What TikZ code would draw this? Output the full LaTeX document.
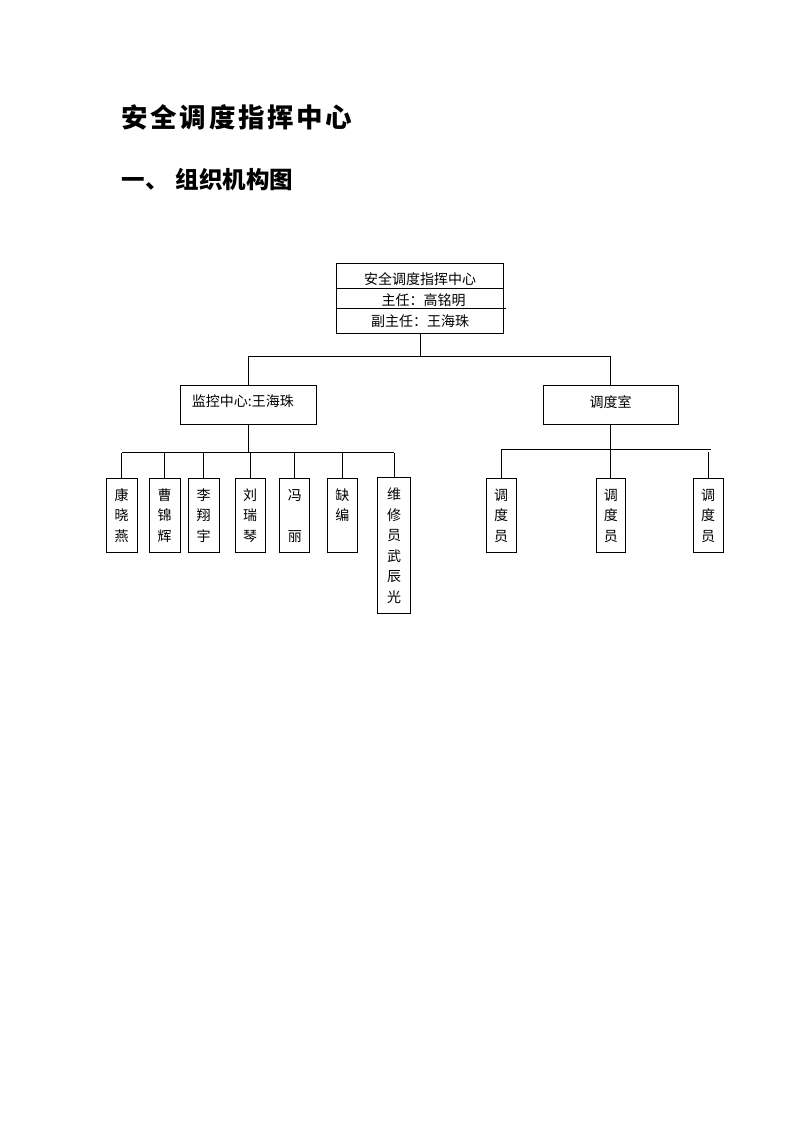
\documentclass[tikz,border=0pt]{standalone}
\usepackage{fontspec}
\newfontfamily\cjk{Noto Sans CJK SC}
\usetikzlibrary{calc}
\begin{document}
\begin{tikzpicture}[x=1pt,y=-1pt,line width=0.9pt,
  every node/.style={font=\cjk},
  txt/.style={font=\cjk\fontsize{14}{21.3}\selectfont},
  vbox/.style={draw, inner sep=0pt, anchor=north, align=center, minimum width=31pt,
    text height=63pt, text depth=10.5pt, font=\cjk\fontsize{14}{20.5}\selectfont},
  hbox/.style={draw, anchor=north west, font=\cjk\fontsize{14}{17}\selectfont},
  titlestyle/.style={anchor=base west, inner sep=0pt}
]
\useasboundingbox (0,0) rectangle (793,1122);
\def\ts{\kern2.7pt}
% titles
\node[titlestyle, font=\cjk\bfseries\fontsize{26.5}{30}\selectfont] (title) at (121,127.5)
  {安\ts 全\ts 调\ts 度\ts 指\ts 挥\ts 中\ts 心};
\node[titlestyle, font=\cjk\bfseries\fontsize{23.5}{28}\selectfont] (sub) at (121.5,188)
  {一、\hspace{7pt}组织机构图};
% top box
\node[draw, txt, anchor=north, inner sep=0pt, minimum width=166.5pt, text height=63.7pt,
  text depth=7.1pt, align=center] (top) at (420.1,262.5)
  {安全调度指挥中心\\\hspace{7pt}主任：高铭明\\副主任：王海珠};
\draw ($(top.north west)+(0,25.8)$) -- ($(top.north east)+(0,25.8)$);
\draw ($(top.north west)+(0,45.8)$) -- ($(top.north east)+(1.7,45.8)$);
% second level
\node[hbox, inner xsep=12pt, inner ysep=0pt, text width=112.5pt, align=left,
  text height=21.5pt, text depth=18pt] (mon) at (179.5,384.5) {监控中心:王海珠};
\node[hbox, inner sep=0pt, minimum width=135.5pt, text height=22pt, text depth=17pt]
  (disp) at (542.5,385) {调度室};
\coordinate (b1) at (421,356);
\draw (top.south) -- (top.south |- b1);
\draw (mon.north) -- (mon.north |- b1) -- (disp.north |- b1) -- (disp.north);
% monitor children
\node[vbox] (c1) at (121.7,478) {康\\晓\\燕};
\node[vbox] (c2) at (164.7,478) {曹\\锦\\辉};
\node[vbox] (c3) at (203.5,478) {李\\翔\\宇};
\node[vbox, minimum width=30pt] (c4) at (250,478) {刘\\瑞\\琴};
\node[vbox, minimum width=30pt] (c5) at (294.8,478) {冯\\[20.5pt]丽};
\node[vbox, minimum width=30pt, text height=42.5pt, text depth=31pt] (c6) at (342.3,478) {缺\\编};
\node[vbox, minimum width=32.6pt, text height=124.5pt, text depth=11.5pt] (c7) at (394,477.3) {维\\修\\员\\武\\辰\\光};
\coordinate (b2) at (0,452.5);
\draw (mon.south) -- (mon.south |- b2);
\draw (c1.north |- b2) -- (c7.north |- b2);
\foreach \n in {c1,c2,c3,c4,c5,c6,c7}
  \draw (\n.north) -- (\n.north |- b2);
% dispatch children
\node[vbox, minimum width=30pt, text depth=11pt] (d1) at (501,478) {调\\度\\员};
\node[vbox, minimum width=29pt, text depth=11pt] (d2) at (610.8,478) {调\\度\\员};
\node[vbox, minimum width=30.3pt, text depth=11pt] (d3) at (708.2,478) {调\\度\\员};
\coordinate (b3) at (0,449.3);
\draw (disp.south) -- (disp.south |- b3);
\draw (d1.north) -- (d1.north |- b3) -- ($(d3.north |- b3)+(2.5,0)$);
\draw (d2.north) -- (d2.north |- b3);
\draw (d3.north) -- ($(d3.north |- b3)+(0,2.4)$);
\end{tikzpicture}
\end{document}
